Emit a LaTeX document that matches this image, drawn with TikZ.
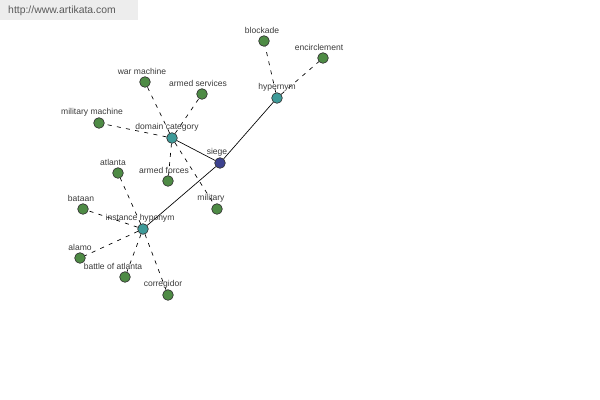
\documentclass[tikz,border=0pt]{standalone}
\usepackage{fontspec}
\setmainfont{Liberation Sans}
\definecolor{gnode}{HTML}{4E8B45}
\definecolor{tnode}{HTML}{3E9A98}
\definecolor{bnode}{HTML}{3D428F}
\definecolor{lbl}{HTML}{3A3A3A}
\begin{document}
\begin{tikzpicture}[x=0.75pt,y=-0.75pt,
  vtx/.style={circle,draw=black!80,line width=0.5pt,inner sep=0pt,minimum size=8pt},
  leaf/.style={vtx,fill=gnode},
  mid/.style={vtx,fill=tnode},
  root/.style={vtx,fill=bnode},
  lab/.style={font=\fontsize{6.4}{7}\selectfont,text=lbl,inner sep=0pt},
  rel/.style={draw=black,line width=0.5pt},
  dsh/.style={draw=black,line width=0.5pt,dash pattern=on 3pt off 4pt}]
\useasboundingbox (0,0) rectangle (600,400);
\fill[black!7] (0,0) rectangle (138,20);
\node[font=\fontsize{7.8}{9}\selectfont,text=black!65,inner sep=0pt] (wm) at (62,11) {http://www.artikata.com};
% nodes
\node[root] (siege) at (220,163) {};
\node[mid] (hyper) at (277,98) {};
\node[leaf] (block) at (264,41) {};
\node[leaf] (encir) at (323,58) {};
\node[mid] (dom) at (172,138) {};
\node[leaf] (war) at (145,82) {};
\node[leaf] (armserv) at (202,94) {};
\node[leaf] (milmach) at (99,123) {};
\node[leaf] (armf) at (168,181) {};
\node[leaf] (mil) at (217,209) {};
\node[mid] (inst) at (143,229) {};
\node[leaf] (atl) at (118,173) {};
\node[leaf] (bat) at (83,209) {};
\node[leaf] (alamo) at (80,258) {};
\node[leaf] (boa) at (125,277) {};
\node[leaf] (corr) at (168,295) {};
% edges
\draw[rel] (siege) -- (hyper);
\draw[rel] (siege) -- (dom);
\draw[rel] (siege) -- (inst);
\draw[dsh] (hyper) -- (block);
\draw[dsh] (hyper) -- (encir);
\draw[dsh] (dom) -- (war);
\draw[dsh] (dom) -- (armserv);
\draw[dsh] (dom) -- (milmach);
\draw[dsh] (dom) -- (armf);
\draw[dsh] (dom) -- (mil);
\draw[dsh] (inst) -- (atl);
\draw[dsh] (inst) -- (bat);
\draw[dsh] (inst) -- (alamo);
\draw[dsh] (inst) -- (boa);
\draw[dsh] (inst) -- (corr);
% labels
\node[lab] (lsiege) at (217,152) {siege};
\node[lab] (lhyper) at (277,87) {hypernym};
\node[lab] (lblock) at (262,30) {blockade};
\node[lab] (lencir) at (319,47) {encirclement};
\node[lab] (ldom) at (167,127) {domain category};
\node[lab] (lwar) at (142,71) {war machine};
\node[lab] (larmserv) at (198,83) {armed services};
\node[lab] (lmilmach) at (92,112) {military machine};
\node[lab] (larmf) at (164,170) {armed forces};
\node[lab] (lmil) at (211,198) {military};
\node[lab] (linst) at (140,218) {instance hyponym};
\node[lab] (latl) at (113,162) {atlanta};
\node[lab] (lbat) at (81,198) {bataan};
\node[lab] (lalamo) at (80,247) {alamo};
\node[lab] (lboa) at (113,266) {battle of atlanta};
\node[lab] (lcorr) at (163,284) {corregidor};
\end{tikzpicture}
\end{document}
